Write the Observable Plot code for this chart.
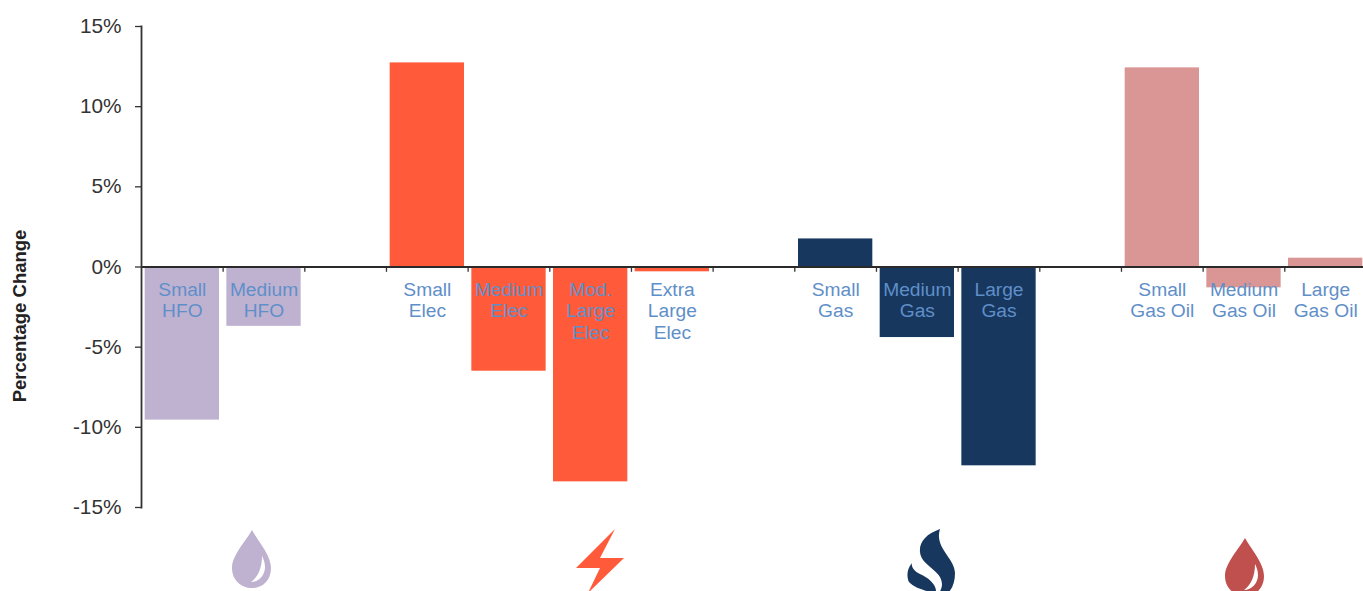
<!DOCTYPE html>
<html>
<head>
<meta charset="utf-8">
<script src="https://cdn.jsdelivr.net/npm/d3@7"></script>
<script src="https://cdn.jsdelivr.net/npm/@observablehq/plot@0.6"></script>
<style>
html,body{margin:0;padding:0;background:#fff;overflow:hidden}
svg{display:block}
</style>
</head>
<body>
<div id="chart"></div>
<script>
const categories = ["Small\nHFO","Medium\nHFO"," ","Small\nElec","Medium\nElec","Mod.\nLarge\nElec","Extra\nLarge\nElec","  ","Small\nGas","Medium\nGas","Large\nGas","   ","Small\nGas Oil","Medium\nGas Oil","Large\nGas Oil"];
const values = [-9.55,-3.7,null,12.73,-6.5,-13.4,-0.3,null,1.75,-4.4,-12.4,null,12.42,-1.3,0.55];
const colors = ["#bfb2d1","#bfb2d1",null,"#ff5b3a","#ff5b3a","#ff5b3a","#ff5b3a",null,"#17375e","#17375e","#17375e",null,"#d99694","#d99694","#d99694"];
const yTicks = [-15,-10,-5,0,5,10,15];
const yTitle = "Percentage Change";

const rows = categories.map((c,i)=>({c,v:values[i],col:colors[i]}));
const bars = rows.filter(d=>d.v!==null);
const labels = bars;

const dropBody = "M252 530 C246 541,232 555,232 568 C232 580,241 588,252 588 C263 588,271 580,271 568 C271 555,258 541,252 530 Z";
const dropGlint = "M262 556 C262 568,258 577,251 582 C259 582,265 575,265 567 C265 562,263 558,262 556 Z";
const icons = [
  {d:dropBody, fill:"#bfb2d1"},
  {d:dropGlint, fill:"#fff"},
  {d:"M615 529 L576 568 L600 568 L588 593 L624 558 L600 558 Z", fill:"#ff5b3a"},
  {d:"M940 529 C926 534,919 542,920 552 C921 566,942 570,942 584 C942 587,941 590,939 593 L948 593 C953 588,955 581,955 573 C955 558,934 548,940 529 Z", fill:"#17375e"},
  {d:"M912 563 C906 570,907 578,909 582 C914 588,925 590,932 593 L936 593 C937 585,929 578,920 574 C914 571,911 567,912 563 Z", fill:"#17375e"},
  {d:dropBody, fill:"#c0504d", t:"translate(993,8)"},
  {d:dropGlint, fill:"#fff", t:"translate(993,8)"}
];

function iconMark(){
  const g = d3.create("svg:g");
  for (const ic of icons) g.append("path").attr("d",ic.d).attr("fill",ic.fill).attr("transform",ic.t||null);
  return g.node();
}

const chart = Plot.plot({
  width:1363, height:591,
  marginLeft:141, marginTop:26, marginBottom:84, marginRight:0,
  style:{fontFamily:"'Liberation Sans',Arial,sans-serif",background:"#fff",overflow:"hidden"},
  x:{type:"band",domain:categories,range:[141,1366],paddingInner:0.09,paddingOuter:0.045,round:false,axis:null},
  y:{domain:[-15,15],axis:null},
  marks:[
    Plot.barY(bars,{x:"c",y:"v",fill:"col"}),
    Plot.ruleX(categories,{x:d=>d,y1:0,y2:-0.33,dx:40.8,stroke:"#333",strokeWidth:1.3}),
    Plot.ruleY([0],{stroke:"#2a2a2a",strokeWidth:1.8}),
    Plot.axisY({ticks:yTicks,tickFormat:d=>d+"%",tickSize:6,tickPadding:14,fontSize:20.8,stroke:"#333",color:"#333",strokeWidth:1.3,label:null}),
    Plot.frame({anchor:"left",stroke:"#333",strokeWidth:1.8}),
    Plot.text(labels,{x:"c",y:0,text:"c",dy:14,lineAnchor:"top",lineHeight:1.11,fontSize:19.2,fill:"#5f8fc9"}),
    Plot.text([yTitle],{frameAnchor:"left",dx:-121,dy:49,rotate:-90,text:d=>d,fontSize:18.5,fontWeight:"bold",fill:"#222",textAnchor:"middle"}),
    iconMark
  ]
});
document.getElementById("chart").append(chart);
</script>
</body>
</html>
